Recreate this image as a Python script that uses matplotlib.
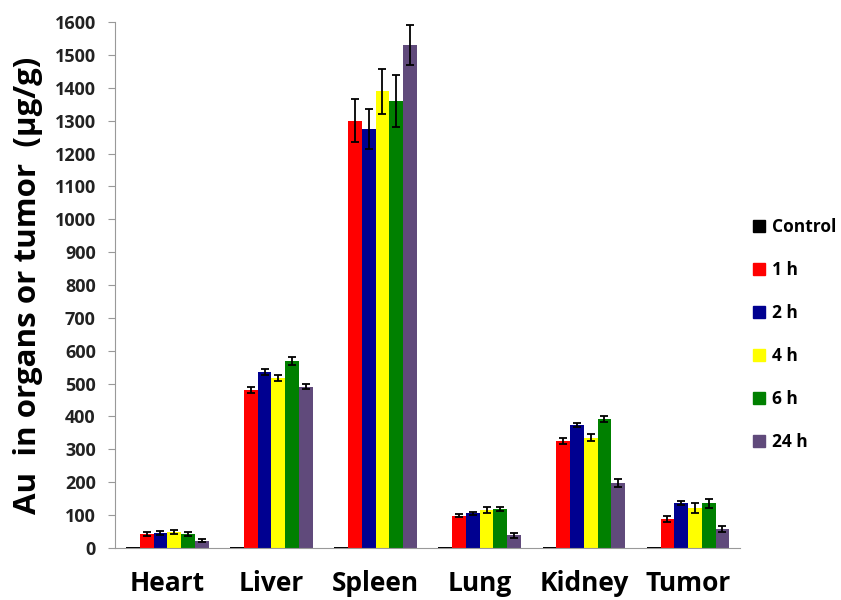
import numpy as np
import matplotlib.pyplot as plt
from matplotlib.patches import Patch

plt.rcParams['font.family'] = ['Open Sans', 'DejaVu Sans']

organs = ['Heart', 'Liver', 'Spleen', 'Lung', 'Kidney', 'Tumor']
groups = ['Control', '1 h', '2 h', '4 h', '6 h', '24 h']
colors = ['#000000', '#ff0000', '#000090', '#ffff00', '#008000', '#604a7b']

control = [2, 2, 2, 2, 2, 2]
h1 = [42, 480, 1300, 98, 325, 88]
h2 = [45, 535, 1275, 105, 375, 135]
h4 = [47, 518, 1390, 115, 335, 120]
h6 = [42, 568, 1360, 118, 392, 135]
h24 = [22, 490, 1530, 38, 198, 58]

control_err = [0, 0, 0, 0, 0, 0]
h1_err = [5, 10, 65, 4, 8, 10]
h2_err = [5, 10, 60, 5, 6, 6]
h4_err = [6, 9, 68, 10, 10, 15]
h6_err = [5, 12, 78, 7, 8, 14]
h24_err = [4, 8, 60, 8, 12, 9]

values = [control, h1, h2, h4, h6, h24]
errors = [control_err, h1_err, h2_err, h4_err, h6_err, h24_err]

fig = plt.figure(figsize=(8.41, 6), dpi=100)
ax = fig.add_axes([0.137, 0.087, 0.743, 0.876])

x = np.arange(len(organs))
w = 0.132
for i in range(len(groups)):
    pos = x + (i - 2.5) * w
    ax.bar(pos, values[i], w, color=colors[i], label=groups[i], zorder=2)
    if i > 0:
        ax.errorbar(pos, values[i], yerr=errors[i], fmt='none', ecolor='black',
                    elinewidth=1.3, capsize=3, capthick=1.3, zorder=3)

ax.set_xlim(-0.5, 5.5)
ax.set_ylim(0, 1600)
ax.set_yticks(np.arange(0, 1601, 100))
ax.set_xticks(x)
ax.set_xticklabels(organs, fontsize=19, fontweight='bold')
ax.tick_params(axis='x', length=0, pad=16)
ax.tick_params(axis='y', direction='out', length=5, color='#999999', labelsize=13,
               labelcolor='#222222', pad=9)
for lab in ax.get_yticklabels():
    lab.set_fontweight('bold')

for s in ['top', 'right']:
    ax.spines[s].set_visible(False)
ax.spines['left'].set_color('#999999')
ax.spines['bottom'].set_color('#999999')

ax.set_ylabel('Au  in organs or tumor  (\u00b5g/g)', fontsize=22.5, fontweight='bold', labelpad=8)

handles = [Patch(color=c) for c in colors]
leg = fig.legend(handles, groups, loc='upper left', bbox_to_anchor=(0.877, 0.662),
                 frameon=False, handlelength=0.7, handleheight=0.7, handletextpad=0.4,
                 labelspacing=1.44, prop={'weight': 'bold', 'size': 12.5})

fig.savefig('out.png', dpi=100)
